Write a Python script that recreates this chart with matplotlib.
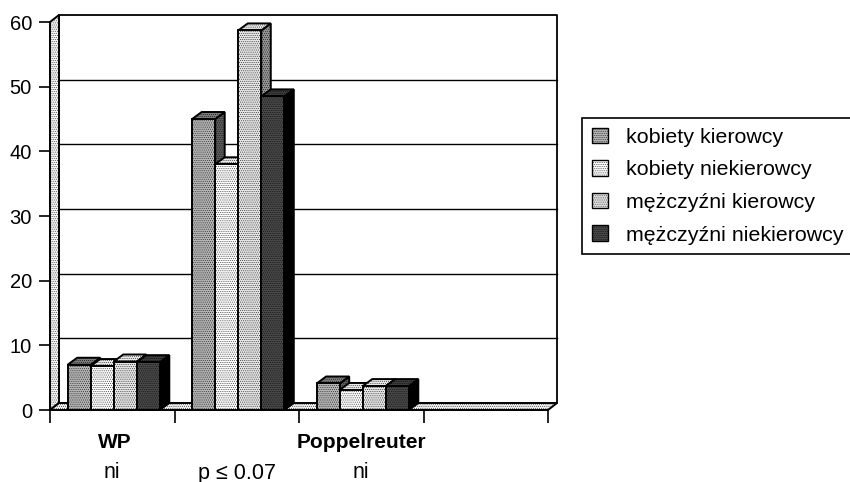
import matplotlib
matplotlib.use("Agg")
import matplotlib.pyplot as plt
from matplotlib.patches import Polygon, Patch

plt.rcParams['font.family'] = ['Liberation Sans', 'DejaVu Sans']
plt.rcParams['hatch.linewidth'] = 0.3

categories = ['WP', '', 'Poppelreuter']
notes = ['ni', 'p ≤ 0.07', 'ni']
series_names = ['kobiety kierowcy', 'kobiety niekierowcy', 'mężczyźni kierowcy', 'mężczyźni niekierowcy']
kobiety_kier = [7.0, 45.0, 4.1]
kobiety_niekier = [6.8, 38.0, 3.1]
mezczyzni_kier = [7.5, 58.7, 3.7]
mezczyzni_niekier = [7.4, 48.5, 3.7]
series = [kobiety_kier, kobiety_niekier, mezczyzni_kier, mezczyzni_niekier]
yticks = [0, 10, 20, 30, 40, 50, 60]

# face, top, side greys for each series
front_colors = ['#b4b4b4', '#fcfcfc', '#e4e4e4', '#484848']
top_colors = ['#7c7c7c', '#e8e8e8', '#e8e8e8', '#3c3c3c']
side_colors = ['#5c5c5c', '#b8b8b8', '#949494', '#000000']
dots = '........'

bar_w = 0.185
# 3d depth in data units
dx = 9.5 / 124.5
dy = 7 / 6.47
wall_dx = 9 / 124.5
wall_dy = 7 / 6.47

fig = plt.figure(figsize=(8.5, 4.82), dpi=100)
ax = fig.add_axes([50 / 850, (482 - 410) / 482, 498 / 850, 388 / 482])
ax.set_xlim(0, 4)
ax.set_ylim(0, 60)
for s in ax.spines.values():
    s.set_visible(False)


def poly(pts, fc, z, lw=1.4, hatch=dots):
    p = Polygon(pts, closed=True, facecolor=fc, edgecolor='black', linewidth=lw, hatch=hatch, zorder=z, clip_on=False)
    ax.add_patch(p)


# walls and floor
poly([(0, 0), (wall_dx, wall_dy), (wall_dx, 60 + wall_dy), (0, 60)], '#f6f6f6', 1)
poly([(0, 0), (4, 0), (4 + wall_dx, wall_dy), (wall_dx, wall_dy)], '#f2f2f2', 1)
ax.plot([wall_dx, 4 + wall_dx, 4 + wall_dx], [60 + wall_dy, 60 + wall_dy, wall_dy], color='black', lw=1.3, clip_on=False, zorder=1)
for v in yticks[1:-1]:
    ax.plot([wall_dx, 4 + wall_dx], [v + wall_dy, v + wall_dy], color='black', lw=1.0, clip_on=False, zorder=1)

z = 2
for c in range(len(categories)):
    for i, vals in enumerate(series):
        x0 = c + 0.512 + (i - 2) * bar_w
        h = vals[c]
        x1 = x0 + bar_w
        poly([(x1, 0), (x1 + dx, dy), (x1 + dx, h + dy), (x1, h)], side_colors[i], z)
        poly([(x0, h), (x1, h), (x1 + dx, h + dy), (x0 + dx, h + dy)], top_colors[i], z)
        ax.bar(x0, h, bar_w, align='edge', color=front_colors[i], edgecolor='black', linewidth=1.4, hatch=dots, zorder=z + 0.5)
        z += 1

ax.set_yticks(yticks)
ax.set_xticks([0, 1, 2, 3, 4])
ax.set_xticklabels([])
ax.tick_params(axis='y', length=8, width=1.2, labelsize=14.5, pad=5)
ax.tick_params(axis='x', length=9, width=1.2)
ax.plot([0, 0], [0, 60], color='black', lw=1.2, clip_on=False, zorder=1)
ax.plot([0, 4], [0, 0], color='black', lw=1.2, clip_on=False, zorder=1)

trans = ax.get_xaxis_transform()
for c in range(len(categories)):
    ax.text(c + 0.5 + (0.02 if c == 0 else 0), -32 / 388, categories[c], transform=trans, ha='center', va='center', fontsize=15, fontweight='bold')
    ax.text(c + 0.5, -63 / 388, notes[c], transform=trans, ha='center', va='center', fontsize=15.5)

handles = [Patch(facecolor=front_colors[i], edgecolor='black', hatch=dots, label=series_names[i]) for i in range(4)]
leg = ax.legend(handles=handles, loc='upper left', bbox_to_anchor=(582 / 850, 1 - 118 / 482), bbox_transform=fig.transFigure,
                fontsize=15.4, frameon=True, fancybox=False, edgecolor='black', framealpha=1, handlelength=0.75, handleheight=0.75,
                handletextpad=0.85, labelspacing=0.62, borderpad=0.45, borderaxespad=0)
leg.get_frame().set_linewidth(1.2)

fig.savefig('out.png', dpi=100)
